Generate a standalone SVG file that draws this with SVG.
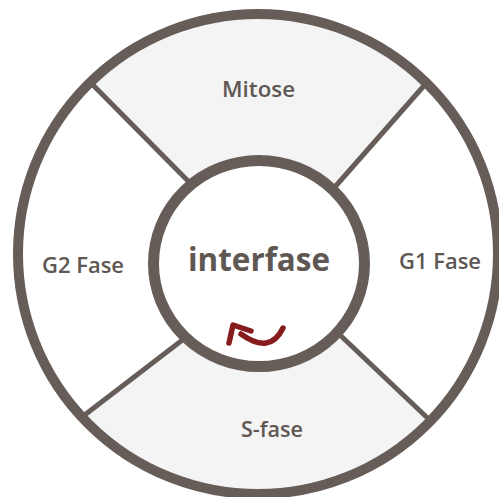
<svg xmlns="http://www.w3.org/2000/svg" width="499" height="497" viewBox="0 0 499 497">
  <style>
    .ring { fill: none; stroke: #665d59; }
    .divider { stroke: #665d59; stroke-width: 5; stroke-linecap: butt; }
    .label { font-family: "Open Sans", "Liberation Sans", sans-serif; font-size: 22px; font-weight: 600; fill: #5e5753; text-anchor: middle; }
    .title { font-family: "Open Sans", "Liberation Sans", sans-serif; font-size: 32px; font-weight: bold; fill: #5e5753; text-anchor: middle; }
    .cycle { fill: none; stroke: #861c1e; stroke-width: 5.5; stroke-linecap: round; stroke-linejoin: round; }
  </style>
  <defs>
    <clipPath id="disc">
      <circle cx="258" cy="254" r="240"/>
    </clipPath>
  </defs>

  <rect width="499" height="497" fill="#ffffff"/>

  <!-- segment fills: grey top and bottom, white sides -->
  <g clip-path="url(#disc)">
    <circle cx="258" cy="254" r="240" fill="#f4f4f4"/>
  </g>

  <g id="mitose">
    <text class="label" x="258.5" y="97" textLength="73" lengthAdjust="spacingAndGlyphs">Mitose</text>
  </g>

  <g id="g2-fase" clip-path="url(#disc)">
    <polygon points="0,-9 187,180 259,262 182,340 0,480" fill="#ffffff"/>
  </g>
  <g id="g1-fase" clip-path="url(#disc)">
    <polygon points="499,1 337,185 259,262 343,338 499,485" fill="#ffffff"/>
  </g>

  <g id="s-fase">
    <text class="label" x="272" y="437" textLength="62" lengthAdjust="spacingAndGlyphs">S-fase</text>
  </g>

  <!-- dividers between the four phases -->
  <g id="dividers" clip-path="url(#disc)">
    <line class="divider" x1="88" y1="80" x2="190" y2="183"/>
    <line class="divider" x1="429" y1="80" x2="334" y2="188"/>
    <line class="divider" x1="82" y1="417" x2="185" y2="338"/>
    <line class="divider" x1="437" y1="427" x2="340" y2="335"/>
  </g>

  <g id="g2-label">
    <text class="label" x="83" y="273" textLength="82" lengthAdjust="spacingAndGlyphs">G2 Fase</text>
  </g>
  <g id="g1-label">
    <text class="label" x="440" y="269" textLength="82" lengthAdjust="spacingAndGlyphs">G1 Fase</text>
  </g>

  <!-- outer ring -->
  <circle class="ring" cx="258" cy="254" r="240" stroke-width="10"/>

  <!-- centre: interfase -->
  <g id="interfase">
    <ellipse cx="259" cy="263.5" rx="105.5" ry="103" fill="#ffffff" stroke="#665d59" stroke-width="11"/>
    <text class="title" x="259" y="271" textLength="142" lengthAdjust="spacingAndGlyphs">interfase</text>
  </g>

  <!-- cycle arrow -->
  <g id="connectors">
    <path class="cycle" d="M 283 328 Q 270 355 241 334"/>
    <path class="cycle" d="M 229 343 L 233 325 L 251 331"/>
  </g>
</svg>
